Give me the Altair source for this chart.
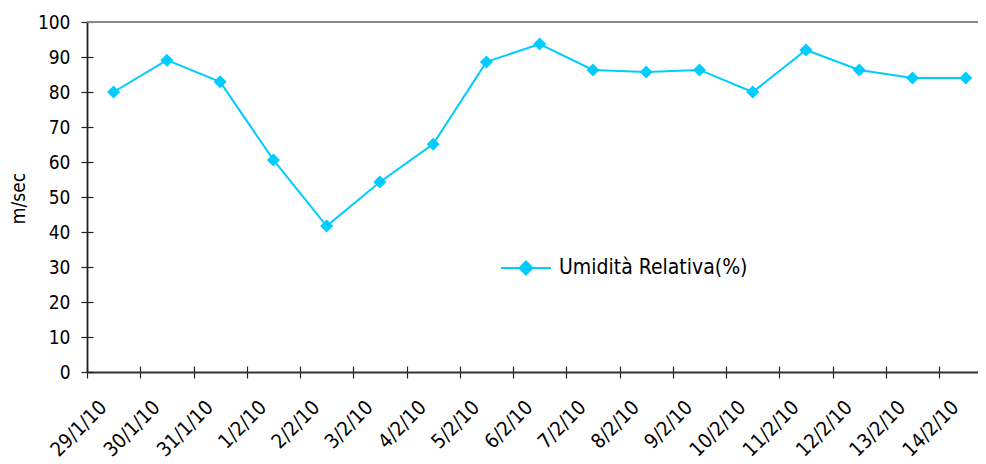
import altair as alt
import pandas as pd

dates = ["29/1/10", "30/1/10", "31/1/10", "1/2/10", "2/2/10", "3/2/10", "4/2/10",
         "5/2/10", "6/2/10", "7/2/10", "8/2/10", "9/2/10", "10/2/10", "11/2/10",
         "12/2/10", "13/2/10", "14/2/10"]
values = [80.0, 89.1, 82.9, 60.6, 41.7, 54.3, 65.1, 88.6, 93.7, 86.3, 85.7, 86.3,
          80.0, 92.0, 86.3, 84.0, 84.0]
series_name = "Umidità Relativa(%)"
y_ticks = [0, 10, 20, 30, 40, 50, 60, 70, 80, 90, 100]
top_line = [100]

COLOR = "#00CCFF"
FONT = "DejaVu Sans Condensed, DejaVu Sans"

df = pd.DataFrame({
    "idx": list(range(len(dates))),
    "date": dates,
    "value": values,
    "series": [series_name] * len(dates),
})
boundaries = [i - 0.5 for i in range(len(dates))]

x_scale = alt.Scale(domain=[-0.5, 16.23], nice=False, zero=False)
y_scale = alt.Scale(domain=[0, 100], nice=False, zero=True)

label_expr = "[" + ",".join("'%s'" % d for d in dates) + "][round(datum.value + 0.5)]"

base = alt.Chart(df)

line = base.mark_line(
    strokeWidth=2,
    point=alt.OverlayMarkDef(shape="diamond", size=170, filled=True, color=COLOR, opacity=1),
).encode(
    x=alt.X("idx:Q", scale=x_scale, axis=alt.Axis(
        values=boundaries, orient="bottom", title=None, grid=False,
        tickSize=6, tickColor="#222", tickWidth=1.2,
        domainColor="#333", domainWidth=1.8,
        labelExpr=label_expr, labelAngle=315, labelAlign="right", labelBaseline="middle",
        labelOffset=16, labelPadding=26, labelFont=FONT, labelFontSize=20,
        labelColor="#000", labelOverlap=False, labelBound=False, labelFlush=False,
    )),
    y=alt.Y("value:Q", scale=y_scale, axis=alt.Axis(
        values=y_ticks, orient="left", grid=False, title="m/sec",
        tickSize=6, tickColor="#222", tickWidth=1.2,
        domainColor="#222", domainWidth=1.8,
        labelFont=FONT, labelFontSize=19, labelColor="#000", labelPadding=11,
        labelFlush=False, labelOverlap=False,
        titleFont=FONT, titleFontSize=19, titleFontWeight="normal", titleColor="#000",
        titleX=-69, titleY=176, titleAngle=270, titleBaseline="middle", titleAlign="center",
    )),
    color=alt.Color("series:N", scale=alt.Scale(domain=[series_name], range=[COLOR]),
                    legend=alt.Legend(
                        title=None, orient="none", legendX=413, legendY=220,
                        symbolType="M-1,0L1,0M-0.26,0L0,-0.26L0.26,0L0,0.26Z",
                        symbolSize=2500, symbolStrokeWidth=2,
                        symbolStrokeColor=COLOR, symbolFillColor=COLOR,
                        labelFont=FONT, labelFontSize=21, labelColor="#000",
                        labelOffset=7, padding=0, labelLimit=500,
                    )),
)

inner_ticks = base.mark_point(opacity=0).encode(
    x=alt.X("idx:Q", scale=x_scale, axis=alt.Axis(
        values=boundaries, orient="bottom", offset=-6, title=None, grid=False,
        labels=False, domain=False, tickSize=6, tickColor="#222", tickWidth=1.2,
    )),
    y=alt.Y("value:Q", scale=y_scale, axis=alt.Axis(
        values=y_ticks, orient="left", offset=-6, title=None, grid=False,
        labels=False, domain=False, tickSize=6, tickColor="#222", tickWidth=1.2,
    )),
)

top_rule = alt.Chart(pd.DataFrame({"v": top_line})).mark_rule(
    color="#888888", strokeWidth=1.8
).encode(y=alt.Y("v:Q", scale=y_scale, axis=None))

chart = alt.layer(top_rule, inner_ticks, line).resolve_axis(
    x="independent", y="independent"
).properties(
    width=891, height=350,
    autosize=alt.AutoSizeParams(type="none"),
    padding={"left": 79, "top": 14, "right": 0, "bottom": 92},
).configure_view(stroke=None).configure(background="white")

chart.save("out.html", embed_options={"renderer": "svg", "actions": False})
